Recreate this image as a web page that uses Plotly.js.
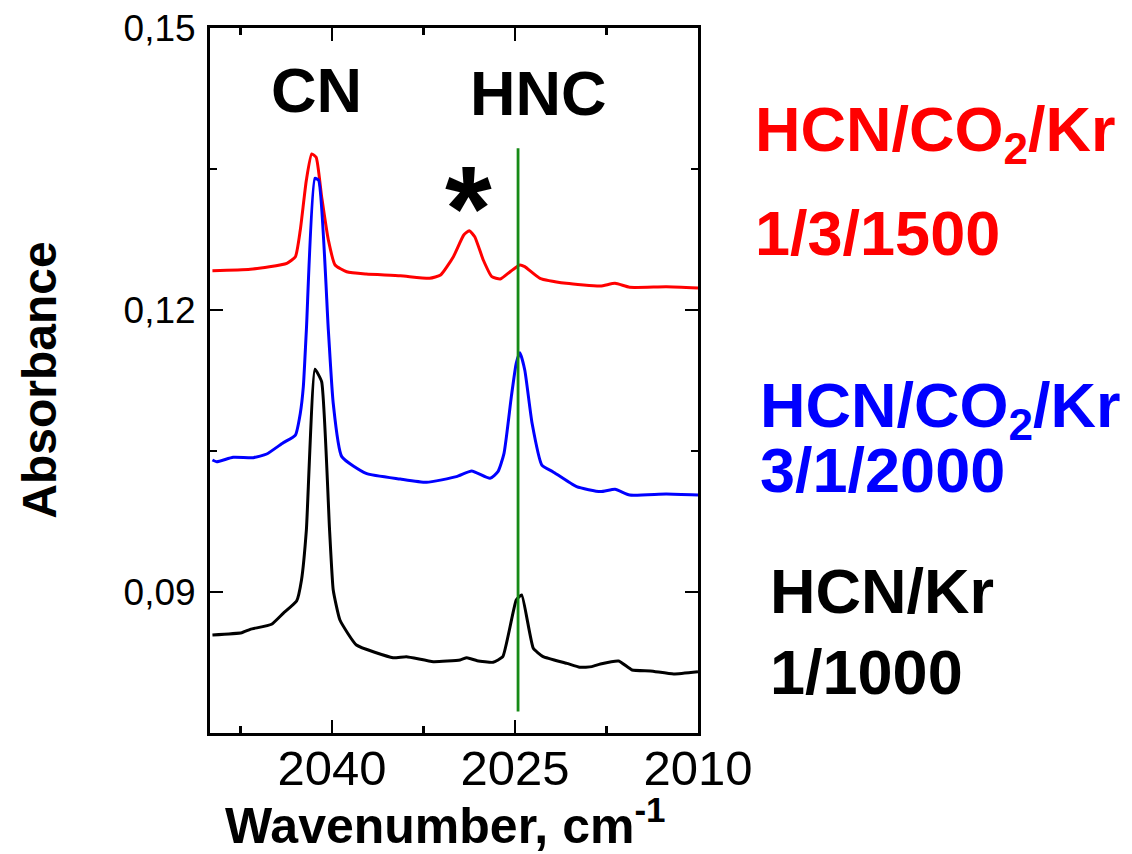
<!DOCTYPE html>
<html>
<head>
<meta charset="utf-8">
<script src="https://cdn.plot.ly/plotly-3.0.1.min.js"></script>
<style>html,body{margin:0;padding:0;background:#fff;}#chart{width:1132px;height:854px;}</style>
</head>
<body>
<div id="chart"></div>
<script>
// Wavenumber (cm^-1) and absorbance values
const redX = [2049.8, 2046.7, 2043.7, 2043.0, 2042.6, 2042.1, 2041.66, 2041.3, 2040.85, 2040.3, 2039.75, 2038.8, 2037.2, 2034.4, 2032.0, 2031.1, 2030.05, 2029.2, 2028.75, 2028.3, 2027.6, 2026.9, 2026.2, 2025.4, 2024.6, 2024.2, 2022.95, 2020.8, 2018.0, 2016.8, 2015.6, 2012.6, 2010.0];
const redY = [0.12418, 0.12433, 0.12497, 0.12567, 0.12851, 0.13383, 0.1366, 0.13624, 0.13206, 0.12745, 0.12479, 0.12407, 0.12383, 0.12365, 0.12337, 0.12372, 0.12567, 0.12798, 0.12844, 0.1278, 0.12532, 0.12355, 0.1233, 0.12407, 0.12479, 0.12461, 0.12337, 0.12284, 0.12255, 0.12284, 0.12242, 0.12248, 0.12234];

const blueX = [2049.8, 2049.45, 2048.1, 2046.45, 2045.35, 2044.0, 2043.0, 2042.6, 2042.35, 2042.1, 2041.4, 2041.1, 2040.3, 2039.9, 2039.2, 2037.2, 2034.4, 2032.25, 2029.8, 2028.55, 2027.05, 2026.4, 2025.9, 2025.3, 2024.9, 2024.6, 2024.2, 2023.6, 2022.8, 2021.9, 2019.95, 2018.0, 2016.8, 2015.6, 2012.6, 2010.0];
const blueY = [0.10404, 0.10386, 0.10433, 0.10429, 0.10468, 0.10588, 0.1067, 0.1090, 0.11184, 0.11787, 0.1340, 0.1338, 0.11787, 0.11008, 0.10440, 0.10262, 0.10202, 0.10167, 0.10227, 0.10287, 0.10209, 0.1028, 0.10475, 0.11078, 0.11433, 0.11546, 0.11362, 0.10795, 0.10351, 0.1028, 0.10121, 0.10068, 0.10093, 0.10032, 0.10043, 0.10032];

const blackX = [2049.8, 2047.4, 2046.7, 2044.95, 2044.0, 2042.9, 2042.5, 2042.1, 2041.4, 2040.85, 2040.2, 2039.9, 2039.35, 2038.0, 2035.0, 2033.9, 2031.7, 2029.5, 2028.95, 2028.1, 2026.8, 2026.0, 2024.9, 2024.45, 2023.5, 2022.7, 2020.75, 2019.7, 2018.7, 2018.0, 2016.5, 2015.4, 2013.9, 2012.0, 2010.0];
const blackY = [0.08543, 0.08567, 0.08603, 0.08657, 0.08773, 0.08904, 0.09128, 0.0966, 0.11369, 0.11238, 0.0966, 0.09021, 0.08702, 0.08436, 0.08301, 0.08312, 0.08259, 0.08277, 0.08301, 0.08269, 0.08252, 0.08312, 0.08915, 0.08968, 0.08401, 0.08312, 0.08241, 0.08199, 0.08206, 0.08234, 0.08266, 0.0817, 0.0816, 0.08128, 0.08152];

// HNC marker line
const hncLineX = [2024.75, 2024.75];
const hncLineY = [0.1372, 0.0773];

const xTickVals = [2040, 2025, 2010];
const yTickVals = [0.09, 0.12, 0.15];

const FONT = 'Liberation Sans, Arial, Helvetica, sans-serif';

const traces = [
  {x: redX, y: redY, mode: 'lines', line: {color: '#ff0000', width: 3, shape: 'spline', smoothing: 0.5}, name: 'HCN/CO2/Kr 1/3/1500'},
  {x: blueX, y: blueY, mode: 'lines', line: {color: '#0000ff', width: 3, shape: 'spline', smoothing: 0.5}, name: 'HCN/CO2/Kr 3/1/2000'},
  {x: blackX, y: blackY, mode: 'lines', line: {color: '#000000', width: 3, shape: 'spline', smoothing: 0.4}, name: 'HCN/Kr 1/1000'},
  {x: hncLineX, y: hncLineY, mode: 'lines', line: {color: '#168a16', width: 2.8}, name: 'HNC'}
];

const axisCommon = {
  showgrid: false, zeroline: false, showline: true, linecolor: '#000', linewidth: 3,
  mirror: 'ticks', ticks: 'inside', ticklen: 13, tickwidth: 2.5, tickcolor: '#000'
};

const layout = {
  width: 1132, height: 854,
  margin: {l: 210, r: 434, t: 28, b: 121},
  paper_bgcolor: '#fff', plot_bgcolor: '#fff',
  showlegend: false,
  separators: ',.',
  xaxis: Object.assign({}, axisCommon, {
    range: [2050, 2010], tickvals: xTickVals, ticktext: xTickVals.map(String),
    tickfont: {family: FONT, size: 49, color: '#000'}, ticklabelstandoff: -10,
    minor: {ticks: 'inside', ticklen: 7, tickwidth: 2.5, tickcolor: '#000', dtick: 7.5, tick0: 2010}
  }),
  yaxis: Object.assign({}, axisCommon, {
    range: [0.075, 0.15], tickvals: yTickVals, tickformat: '.2f',
    tickfont: {family: FONT, size: 37, color: '#000'}, ticklabelstandoff: 4,
    minor: {ticks: 'inside', ticklen: 7, tickwidth: 2.5, tickcolor: '#000', dtick: 0.015, tick0: 0}
  }),
  annotations: [
    {text: 'CN', x: 2041.3, y: 0.1434, xref: 'x', yref: 'y', showarrow: false, font: {family: FONT, size: 63, color: '#000', weight: 'bold'}},
    {text: 'HNC', x: 2023.1, y: 0.1431, xref: 'x', yref: 'y', showarrow: false, font: {family: FONT, size: 63, color: '#000', weight: 'bold'}},
    {text: '*', x: 2028.8, y: 0.1308, xref: 'x', yref: 'y', showarrow: false, font: {family: FONT, size: 120, color: '#000', weight: 'bold'}},
    {text: 'HCN/CO<sub>2</sub>/Kr', x: 1.113, xanchor: 'left', y: 0.85, yanchor: 'middle', xref: 'paper', yref: 'paper', showarrow: false, font: {family: FONT, size: 63, color: '#ff0000', weight: 'bold'}},
    {text: '1/3/1500', x: 1.113, xanchor: 'left', y: 0.709, yanchor: 'middle', xref: 'paper', yref: 'paper', showarrow: false, font: {family: FONT, size: 63, color: '#ff0000', weight: 'bold'}},
    {text: 'HCN/CO<sub>2</sub>/Kr', x: 1.123, xanchor: 'left', y: 0.459, yanchor: 'middle', xref: 'paper', yref: 'paper', showarrow: false, font: {family: FONT, size: 63, color: '#0000ff', weight: 'bold'}},
    {text: '3/1/2000', x: 1.123, xanchor: 'left', y: 0.373, yanchor: 'middle', xref: 'paper', yref: 'paper', showarrow: false, font: {family: FONT, size: 63, color: '#0000ff', weight: 'bold'}},
    {text: 'HCN/Kr', x: 1.143, xanchor: 'left', y: 0.201, yanchor: 'middle', xref: 'paper', yref: 'paper', showarrow: false, font: {family: FONT, size: 63, color: '#000', weight: 'bold'}},
    {text: '1/1000', x: 1.143, xanchor: 'left', y: 0.087, yanchor: 'middle', xref: 'paper', yref: 'paper', showarrow: false, font: {family: FONT, size: 63, color: '#000', weight: 'bold'}},
    {text: 'Wavenumber, cm<sup>-1</sup>', x: 0.483, xanchor: 'center', y: -0.175, yanchor: 'bottom', xref: 'paper', yref: 'paper', showarrow: false, font: {family: FONT, size: 50, color: '#000', weight: 'bold'}},
    {text: 'Absorbance', x: -0.35, xanchor: 'center', y: 0.5, yanchor: 'middle', xref: 'paper', yref: 'paper', textangle: -90, showarrow: false, font: {family: FONT, size: 48, color: '#000', weight: 'bold'}}
  ]
};

Plotly.newPlot('chart', traces, layout, {staticPlot: true, displayModeBar: false});
</script>
</body>
</html>
